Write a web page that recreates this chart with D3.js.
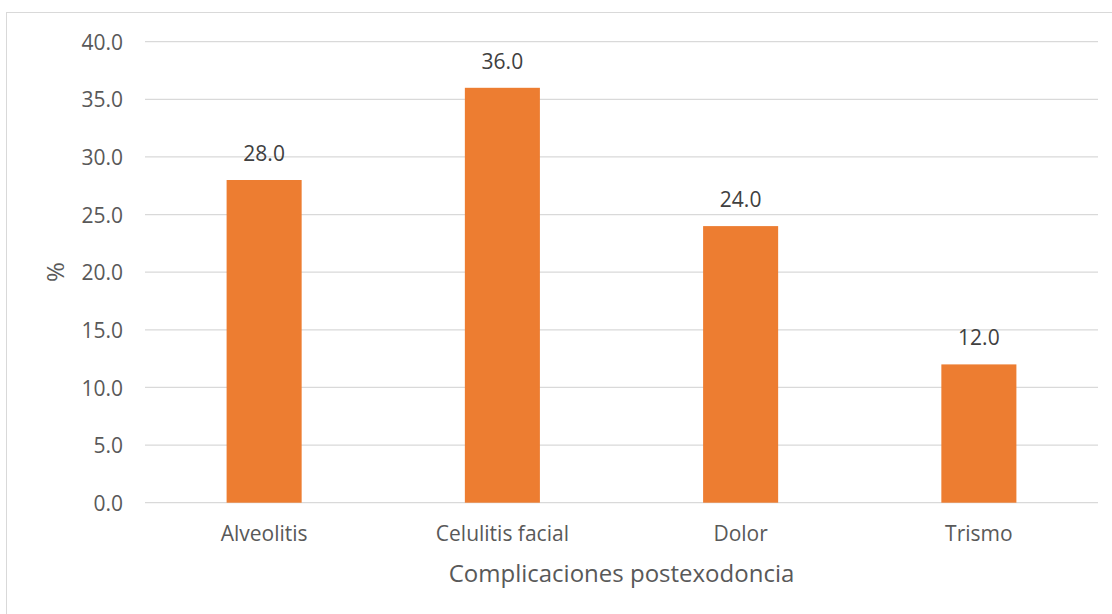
<!DOCTYPE html>
<html>
<head>
<meta charset="utf-8">
<script src="https://cdn.jsdelivr.net/npm/d3@7"></script>
<style>
  html, body { margin: 0; padding: 0; background: #fff; }
  svg { display: block; font-family: "Open Sans", "Noto Sans", sans-serif; }
</style>
</head>
<body>
<svg id="chart" width="1112" height="614"></svg>
<script>
// Post-extraction complications, percentage of cases
const categories = ["Alveolitis", "Celulitis facial", "Dolor", "Trismo"];
const percentages = [28.0, 36.0, 24.0, 12.0];
const yTicks = [0, 5, 10, 15, 20, 25, 30, 35, 40];
const xTitle = "Complicaciones postexodoncia";
const yTitle = "%";

const svg = d3.select("#chart");
const W = 1112, H = 614;
const plot = { left: 145, right: 1098, top: 41.7, bottom: 502.7 };

// Outer chart frame
svg.append("rect")
  .attr("x", 6.5).attr("y", 12.5)
  .attr("width", W).attr("height", H)
  .attr("fill", "#fff").attr("stroke", "#d9d9d9").attr("stroke-width", 1);

const x = d3.scaleBand()
  .domain(categories)
  .range([plot.left, plot.right])
  .paddingInner(0.685)
  .paddingOuter(0.3425);

const y = d3.scaleLinear()
  .domain([0, 40])
  .range([plot.bottom, plot.top]);

// Horizontal gridlines
svg.append("g")
  .selectAll("line")
  .data(yTicks)
  .join("line")
  .attr("x1", plot.left).attr("x2", plot.right)
  .attr("y1", d => y(d)).attr("y2", d => y(d))
  .attr("stroke", "#d9d9d9").attr("stroke-width", 1.3);

// Y axis labels
const yAxis = d3.axisLeft(y)
  .tickValues(yTicks)
  .tickFormat(d3.format(".1f"))
  .tickSize(0)
  .tickPadding(22);
const gy = svg.append("g")
  .attr("transform", `translate(${plot.left},0)`)
  .call(yAxis);
gy.select(".domain").remove();
gy.selectAll("text")
  .attr("fill", "#595959")
  .attr("dy", "0.36em")
  .style("font-size", "21px")
  .style("font-family", "'Open Sans', sans-serif");

// Bars
svg.append("g")
  .selectAll("rect")
  .data(categories)
  .join("rect")
  .attr("x", d => x(d))
  .attr("width", x.bandwidth())
  .attr("y", (d, i) => y(percentages[i]))
  .attr("height", (d, i) => y(0) - y(percentages[i]))
  .attr("fill", "#ed7d31");

// Value labels above bars
svg.append("g")
  .selectAll("text")
  .data(categories)
  .join("text")
  .attr("x", d => x(d) + x.bandwidth() / 2)
  .attr("y", (d, i) => y(percentages[i]) - 19)
  .attr("text-anchor", "middle")
  .attr("fill", "#404040")
  .style("font-size", "21px")
  .text((d, i) => d3.format(".1f")(percentages[i]));

// X axis category labels
const xAxis = d3.axisBottom(x).tickSize(0);
const gx = svg.append("g")
  .attr("transform", `translate(0,${plot.bottom})`)
  .call(xAxis);
gx.select(".domain").remove();
gx.selectAll("text")
  .attr("y", 38)
  .attr("dy", 0)
  .attr("fill", "#595959")
  .style("font-size", "21px")
  .style("font-family", "'Open Sans', sans-serif");

// Axis titles
svg.append("text")
  .attr("x", (plot.left + plot.right) / 2)
  .attr("y", 582)
  .attr("text-anchor", "middle")
  .attr("fill", "#595959")
  .style("font-size", "24px")
  .text(xTitle);

svg.append("text")
  .attr("transform", `translate(64,${(plot.top + plot.bottom) / 2}) rotate(-90)`)
  .attr("text-anchor", "middle")
  .attr("fill", "#595959")
  .style("font-size", "24px")
  .text(yTitle);
</script>
</body>
</html>
